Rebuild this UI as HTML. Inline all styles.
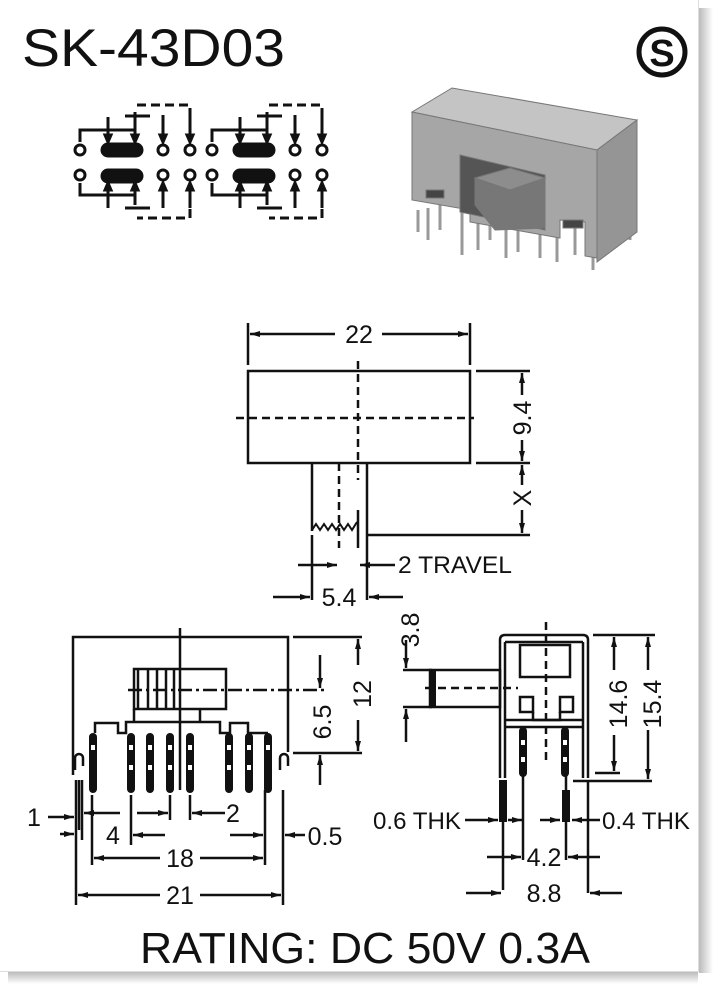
<!DOCTYPE html>
<html><head><meta charset="utf-8"><style>
html,body{margin:0;padding:0;background:#fff;width:716px;height:987px;overflow:hidden}
svg{display:block}
text{font-family:"Liberation Sans",Arial,sans-serif;fill:#111}
</style></head><body>
<svg width="716" height="987" viewBox="0 0 716 987" xmlns="http://www.w3.org/2000/svg">
<defs>
<marker id="a" viewBox="0 0 10 6" refX="10" refY="3" markerWidth="10" markerHeight="6" orient="auto" markerUnits="userSpaceOnUse"><path d="M0,0L10,3L0,6z" fill="#111"/></marker>
<linearGradient id="sh" x1="0" x2="1"><stop offset="0" stop-color="#bbb"/><stop offset="1" stop-color="#fff"/></linearGradient>
<linearGradient id="shb" x1="0" x2="0" y1="0" y2="1"><stop offset="0" stop-color="#bbb"/><stop offset="1" stop-color="#fff"/></linearGradient>
</defs>
<rect width="716" height="987" fill="#fff"/>
<rect x="699" y="8" width="14" height="965" fill="url(#sh)"/>
<rect x="8" y="972" width="690" height="12" fill="url(#shb)"/>
<line x1="698.5" y1="0" x2="698.5" y2="972" stroke="#ddd"/>
<line x1="0" y1="971.5" x2="698" y2="971.5" stroke="#ddd"/>

<text x="22" y="66" font-size="53" textLength="263" lengthAdjust="spacingAndGlyphs">SK-43D03</text>
<circle cx="662" cy="52" r="23" fill="#fff" stroke="#111" stroke-width="5"/>
<text x="662" y="66" font-size="38" font-weight="bold" text-anchor="middle">S</text>

<!-- schematic -->
<g stroke="#111" stroke-width="3" fill="none">
<g id="sg">
<circle cx="80" cy="150" r="5"/><circle cx="80" cy="175" r="5"/>
<circle cx="163" cy="150" r="5"/><circle cx="163" cy="175" r="5"/>
<circle cx="190" cy="150" r="5"/><circle cx="190" cy="175" r="5"/>
<rect x="102" y="144" width="40" height="12" rx="6" fill="#111"/>
<rect x="102" y="170" width="40" height="12" rx="6" fill="#111"/>
<path d="M80,142V130H135M108,117V142M135,112V142M125,116H150M80,183V195H135M108,183V208M135,183V205M125,208H150"/>
<path d="M163,115V140M190,115V140M163,185V208M190,185V208"/>
<path d="M137,105H190V130M190,195V218H137" stroke-dasharray="9,5"/>
<path d="M108,142l-3,-7h6zM135,142l-3,-7h6zM163,142l-3,-7h6zM190,142l-3,-7h6zM108,183l-3,7h6zM135,183l-3,7h6zM163,183l-3,7h6zM190,183l-3,7h6z" fill="#111"/>
</g>
<use href="#sg" x="132"/>
</g>

<!-- 3D -->
<g stroke="#777" stroke-width="1">
<path d="M418,210V232M428,208V240M440,205V230M462,210V255M478,212V250M490,215V240M506,225V258M518,222V252M540,228V258M557,226V262M575,228V255M593,220V270M630,200V240" stroke="#999" stroke-width="3"/>
<polygon points="412,112 452,88 637,120 597,150" fill="#c4c4c4"/>
<polygon points="412,112 597,150 597,258 585,256 585,222 560,220 560,238 470,222 470,210 412,200" fill="#a6a6a6"/>
<polygon points="597,150 637,120 637,232 597,262" fill="#959595"/>
<polygon points="460,155 545,175 545,230 460,212" fill="#555"/>
<polygon points="475,178 510,168 545,178 545,228 495,230 475,205" fill="#777"/>
<polygon points="475,178 510,168 545,178 510,190" fill="#8d8d8d"/>
<rect x="426" y="190" width="18" height="8" fill="#444"/>
<rect x="563" y="220" width="20" height="8" fill="#444"/>
</g>

<!-- top view -->
<g stroke="#111" stroke-width="2.5" fill="none">
<rect x="248" y="371" width="222" height="92"/>
<path d="M312,463V531M367,463V535"/>
<path d="M312,530l4,-6 4,6 4,-6 4,6 4,-6 4,6 4,-6 4,6 4,-6 4,6 5,-8" stroke-width="2"/>
<path d="M358,361V480M236,418H474M339,463V548" stroke-dasharray="8,5"/>
<path d="M248,323V365M470,323V365M476,371H530M476,463H530M367,535H530"/>
<path d="M358,510V548M367,535V600M312,535V600"/>
</g>
<g stroke="#111" stroke-width="2.5" marker-end="url(#a)">
<line x1="335" y1="334" x2="250" y2="334"/><line x1="382" y1="334" x2="468" y2="334"/>
<line x1="522" y1="395" x2="522" y2="373"/><line x1="522" y1="440" x2="522" y2="461"/>
<line x1="522" y1="485" x2="522" y2="465"/><line x1="522" y1="510" x2="522" y2="533"/>
<line x1="298" y1="565" x2="337" y2="565"/><line x1="395" y1="565" x2="360" y2="565"/>
<line x1="273" y1="597" x2="310" y2="597"/><line x1="403" y1="597" x2="369" y2="597"/>
</g>
<text x="359" y="343" font-size="25" text-anchor="middle">22</text>
<text transform="translate(531,418) rotate(-90)" font-size="25" text-anchor="middle">9.4</text>
<text transform="translate(531,498) rotate(-90)" font-size="25" text-anchor="middle">X</text>
<text x="398" y="573" font-size="24" textLength="114" lengthAdjust="spacingAndGlyphs">2 TRAVEL</text>
<text x="339" y="606" font-size="25" text-anchor="middle">5.4</text>

<!-- front view -->
<g stroke="#111" stroke-width="2.5" fill="none">
<path d="M73,775V637H288V752"/>
<path d="M293,637H362M293,753H362M180,628V790" />
<rect x="134" y="669" width="92" height="40"/>
<path d="M138,670V708M148,670V708M157,670V708M166,670V708M174,670V708" />
<path d="M128,690H325" stroke-dasharray="14,4,3,4"/>
<path d="M134,709V722M200,709V722M95,733V723H118V733H126V722H220V733H230V723H248V733H268"/>
<path d="M75,770v-12a4,4 0 0 1 8,0v8M280,770v-12a4,4 0 0 1 8,0v8"/>
</g>
<g fill="#111">
<rect x="89" y="733" width="8" height="60" rx="4"/><rect x="127" y="733" width="8" height="60" rx="4"/>
<rect x="146" y="733" width="8" height="60" rx="4"/><rect x="166" y="733" width="8" height="60" rx="4"/>
<rect x="186" y="733" width="8" height="60" rx="4"/><rect x="225" y="733" width="8" height="60" rx="4"/>
<rect x="245" y="733" width="8" height="60" rx="4"/><rect x="264" y="733" width="8" height="60" rx="4"/>
</g>
<g fill="#fff"><rect x="91" y="745" width="4" height="5"/><rect x="129" y="745" width="4" height="5"/><rect x="148" y="745" width="4" height="5"/><rect x="168" y="745" width="4" height="5"/><rect x="188" y="745" width="4" height="5"/><rect x="227" y="745" width="4" height="5"/><rect x="247" y="745" width="4" height="5"/><rect x="266" y="745" width="4" height="5"/>
<rect x="129" y="765" width="4" height="5"/><rect x="148" y="765" width="4" height="5"/><rect x="168" y="765" width="4" height="5"/><rect x="188" y="765" width="4" height="5"/><rect x="227" y="765" width="4" height="5"/><rect x="247" y="765" width="4" height="5"/></g>
<g stroke="#111" stroke-width="2.5">
<path d="M76,780V905M82,780V840M92,795V865M131,795V845M170,795V820M190,795V820M265,790V865M283,790V905M79,780V830" />
</g>
<g stroke="#111" stroke-width="2.5" marker-end="url(#a)">
<line x1="358" y1="665" x2="358" y2="639"/><line x1="358" y1="720" x2="358" y2="751"/>
<line x1="320" y1="655" x2="320" y2="688"/><line x1="320" y1="785" x2="320" y2="755"/>
<line x1="48" y1="817" x2="74" y2="817"/><line x1="120" y1="813" x2="84" y2="813"/>
<line x1="60" y1="834" x2="74" y2="834"/>
<line x1="137" y1="813" x2="168" y2="813"/><line x1="225" y1="813" x2="192" y2="813"/>
<line x1="165" y1="835" x2="133" y2="835"/><line x1="230" y1="835" x2="263" y2="835"/>
<line x1="305" y1="835" x2="285" y2="835"/>
<line x1="160" y1="858" x2="94" y2="858"/><line x1="200" y1="858" x2="263" y2="858"/>
<line x1="160" y1="895" x2="78" y2="895"/><line x1="200" y1="895" x2="281" y2="895"/>
</g>
<text transform="translate(371,694) rotate(-90)" font-size="25" text-anchor="middle">12</text>
<text transform="translate(331,722) rotate(-90)" font-size="25" text-anchor="middle">6.5</text>
<text x="27" y="826" font-size="25">1</text>
<text x="113" y="844" font-size="25" text-anchor="middle">4</text>
<text x="233" y="822" font-size="25" text-anchor="middle">2</text>
<text x="325" y="845" font-size="25" text-anchor="middle">0.5</text>
<text x="180" y="867" font-size="25" text-anchor="middle">18</text>
<text x="180" y="904" font-size="25" text-anchor="middle">21</text>

<!-- side view -->
<g stroke="#111" stroke-width="2.5" fill="none">
<path d="M500,778V640q0,-5 5,-5H583q5,0 5,5V778"/>
<path d="M505,778V642M583,778V642M505,642H583M505,720H583M505,727H583"/>
<rect x="520" y="645" width="50" height="32"/>
<rect x="520" y="697" width="13" height="15"/><rect x="560" y="697" width="13" height="15"/>
<path d="M533,712V720H560V712"/>
<rect x="430" y="670" width="70" height="37"/>
<path d="M403,670H432M403,707H432"/>
<path d="M546,622V760M425,688H518" stroke-dasharray="8,5"/>
<path d="M593,635H655M595,773H620M573,781H652"/>
<path d="M503,780V890M523,727V860M566,727V860M588,780V893"/>
</g>
<rect x="430" y="670" width="6" height="37" fill="#111"/>
<g fill="#111"><rect x="519" y="727" width="8" height="50" rx="4"/><rect x="561" y="727" width="8" height="50" rx="4"/><rect x="499" y="780" width="8" height="42"/><rect x="562" y="790" width="8" height="32"/></g>
<g fill="#fff"><rect x="521" y="740" width="4" height="5"/><rect x="521" y="757" width="4" height="5"/><rect x="563" y="740" width="4" height="5"/><rect x="563" y="757" width="4" height="5"/></g>
<g stroke="#111" stroke-width="2.5" marker-end="url(#a)">
<line x1="406" y1="640" x2="406" y2="668"/><line x1="406" y1="742" x2="406" y2="709"/>
<line x1="614" y1="670" x2="614" y2="637"/><line x1="614" y1="735" x2="614" y2="771"/>
<line x1="648" y1="670" x2="648" y2="637"/><line x1="648" y1="730" x2="648" y2="779"/>
<line x1="465" y1="820" x2="498" y2="820"/><line x1="508" y1="820" x2="522" y2="820"/>
<line x1="540" y1="820" x2="560" y2="820"/><line x1="600" y1="820" x2="572" y2="820"/>
<line x1="487" y1="857" x2="521" y2="857"/><line x1="600" y1="857" x2="568" y2="857"/>
<line x1="466" y1="893" x2="501" y2="893"/><line x1="622" y1="893" x2="590" y2="893"/>
</g>
<text transform="translate(419,630) rotate(-90)" font-size="25" text-anchor="middle">3.8</text>
<text transform="translate(627,704) rotate(-90)" font-size="25" text-anchor="middle">14.6</text>
<text transform="translate(661,704) rotate(-90)" font-size="25" text-anchor="middle">15.4</text>
<text x="373" y="829" font-size="24" textLength="88" lengthAdjust="spacingAndGlyphs">0.6 THK</text>
<text x="602" y="829" font-size="24" textLength="88" lengthAdjust="spacingAndGlyphs">0.4 THK</text>
<text x="544" y="866" font-size="25" text-anchor="middle">4.2</text>
<text x="544" y="902" font-size="25" text-anchor="middle">8.8</text>

<text x="140" y="963" font-size="44" textLength="450" lengthAdjust="spacingAndGlyphs">RATING: DC 50V 0.3A</text>
</svg>
</body></html>
